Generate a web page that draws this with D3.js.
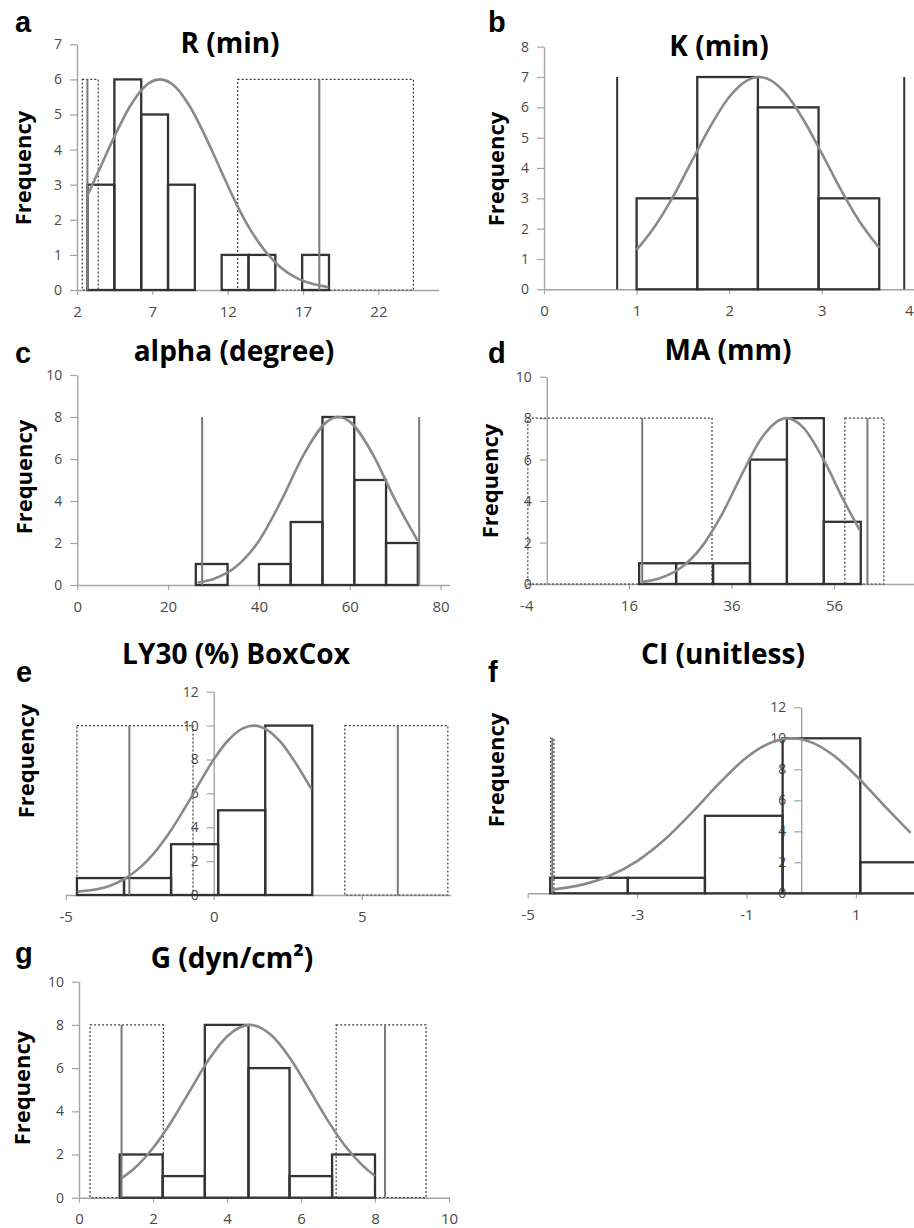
<!DOCTYPE html>
<html>
<head>
<meta charset="utf-8">
<script src="https://cdnjs.cloudflare.com/ajax/libs/d3/7.8.5/d3.min.js"></script>
<style>
body { margin: 0; background: #fff; }
svg { display: block; }
</style>
</head>
<body>
<div id="chart"></div>
<script>

// ---- panel a : R (min)
var aEdges  = [2.7, 4.48, 6.26, 8.04, 9.82, 11.6, 13.38, 15.16, 16.94, 18.72];
var aCounts = [3, 6, 5, 3, 0, 1, 1, 0, 1];
var aLimits = [2.69, 18.08];
var aBoxes  = [[2.35, 3.41], [12.66, 24.32]];
var aCurveX = [2.7, 3.5, 4.5, 5.5, 6.5, 7.5, 8.5, 9.5, 10.5, 11.5, 12.5, 13.5, 14.5, 15.5, 16.5, 17.5, 18.7];
var aCurveY = [2.7, 3.45, 4.39, 5.22, 5.8, 6, 5.8, 5.22, 4.39, 3.45, 2.52, 1.72, 1.1, 0.65, 0.36, 0.19, 0.08];
var aXTicks = [2, 7, 12, 17, 22];
var aYTicks = [0, 1, 2, 3, 4, 5, 6, 7];

// ---- panel b : K (min)
var bEdges  = [1.0, 1.655, 2.31, 2.965, 3.62];
var bCounts = [3, 7, 6, 3];
var bLimits = [0.79, 3.89];
var bBoxes  = [];
var bCurveX = [1.0, 1.2, 1.4, 1.6, 1.8, 2.0, 2.2, 2.32, 2.4, 2.6, 2.8, 3.0, 3.2, 3.4, 3.62];
var bCurveY = [1.3, 2.09, 3.09, 4.25, 5.39, 6.34, 6.9, 7.0, 6.96, 6.49, 5.6, 4.48, 3.32, 2.27, 1.37];
var bXTicks = [0, 1, 2, 3, 4];
var bYTicks = [0, 1, 2, 3, 4, 5, 6, 7, 8];

// ---- panel c : alpha (degree)
var cEdges  = [26.1, 33.1, 40.0, 47.0, 54.0, 61.0, 68.0, 75.0];
var cCounts = [1, 0, 1, 3, 8, 5, 2];
var cLimits = [27.5, 75.3];
var cBoxes  = [];
var cCurveX = [26.5, 30, 35, 40, 45, 50, 55, 57.5, 60, 65, 70, 75];
var cCurveY = [0.12, 0.29, 0.88, 2.1, 4.05, 6.26, 7.78, 8, 7.78, 6.26, 4.05, 2.1];
var cXTicks = [0, 20, 40, 60, 80];
var cYTicks = [0, 2, 4, 6, 8, 10];

// ---- panel d : MA (mm)
var dEdges  = [18.0, 25.2, 32.4, 39.6, 46.8, 54.0, 61.2];
var dCounts = [1, 1, 1, 6, 8, 3];
var dLimits = [18.6, 62.5];
var dBoxes  = [[-3.7, 32.2], [58.1, 65.7]];
var dCurveX = [18.5, 22, 26, 30, 34, 38, 42, 46.7, 50, 54, 58, 61];
var dCurveY = [0.1, 0.28, 0.76, 1.73, 3.3, 5.28, 7.09, 8, 7.54, 5.97, 3.97, 2.6];
var dXTicks = [-4, 16, 36, 56];
var dYTicks = [0, 2, 4, 6, 8, 10];

// ---- panel e : LY30 (%) BoxCox
var eEdges  = [-4.62, -3.03, -1.44, 0.15, 1.74, 3.33];
var eCounts = [1, 1, 3, 5, 10];
var eLimits = [-2.85, 6.22];
var eBoxes  = [[-4.62, -0.7], [4.43, 7.91]];
var eCurveX = [-4.6, -4, -3.5, -3, -2.5, -2, -1.5, -1, -0.5, 0, 0.5, 1, 1.35, 1.8, 2.3, 2.8, 3.3];
var eCurveY = [0.2, 0.32, 0.55, 0.97, 1.6, 2.5, 3.67, 5.06, 6.55, 8.0, 9.15, 9.85, 10, 9.75, 8.95, 7.7, 6.25];
var eXTicks = [-5, 0, 5];
var eYTicks = [0, 2, 4, 6, 8, 10, 12];

// ---- panel f : CI (unitless)
var fEdges  = [-4.59, -3.17, -1.76, -0.34, 1.08, 2.5];
var fCounts = [1, 1, 5, 10, 2];
var fLimits = [-4.55];
var fBoxes  = [[-4.58, -4.52]];
var fCurveX = [-4.56, -4, -3.5, -3, -2.5, -2, -1.5, -1, -0.5, -0.18, 0.2, 0.6, 1.0, 1.5, 2.0];
var fCurveY = [0.23, 0.56, 1.13, 2.08, 3.45, 5.2, 7.09, 8.76, 9.8, 10, 9.72, 8.87, 7.6, 5.72, 3.9];
var fXTicks = [-5, -3, -1, 1];
var fYTicks = [0, 2, 4, 6, 8, 10, 12];

// ---- panel g : G (dyn/cm2)
var gEdges  = [1.1, 2.26, 3.4, 4.58, 5.69, 6.84, 8.0];
var gCounts = [2, 1, 8, 6, 1, 2];
var gLimits = [1.15, 8.27];
var gBoxes  = [[0.3, 2.28], [6.95, 9.38]];
var gCurveX = [1.15, 1.5, 2, 2.5, 3, 3.5, 4, 4.62, 5.2, 5.7, 6.2, 6.7, 7.2, 7.6, 8.0];
var gCurveY = [0.9, 1.36, 2.3, 3.53, 4.96, 6.37, 7.46, 8, 7.52, 6.47, 5.08, 3.64, 2.38, 1.6, 1.0];
var gXTicks = [0, 2, 4, 6, 8, 10];
var gYTicks = [0, 2, 4, 6, 8, 10];

var letters    = ["a", "b", "c", "d", "e", "f", "g"];
var titles     = ["R (min)", "K (min)", "alpha (degree)", "MA (mm)", "LY30 (%) BoxCox", "CI (unitless)", "G (dyn/cm\u00B2)"];
var markHeight = [6, 7, 8, 8, 10, 10, 8];   // height of the limit lines / boxes
var xDomains   = [[2, 26], [0, 4], [0, 82], [-4, 76], [-5, 8], [-5, 3], [0, 10]];
var yMax       = [7, 8, 10, 10, 12, 12, 10];

// layout of each panel on the page (pixels)
var layout = [
    {x0: 77,    x1: 438.7, y0: 290,    yTop: 44.3,  letter: [15, 32],   title: [230, 53],   freq: [31, 168]},
    {x0: 544,   x1: 914.4, y0: 289.3,  yTop: 46.7,  letter: [488, 32],  title: [719, 56],   freq: [504, 169]},
    {x0: 77.3,  x1: 449.6, y0: 585,    yTop: 375,   letter: [15, 363],  title: [234, 361],  freq: [32, 477]},
    {x0: 526.3, x1: 936.7, y0: 584,    yTop: 376.7, letter: [488, 363], title: [728, 360],  freq: [498, 481]},
    {x0: 65.7,  x1: 450.5, y0: 895,    yTop: 691.7, letter: [16, 682],  title: [236, 664],  freq: [34, 761]},
    {x0: 527.7, x1: 965.3, y0: 893.3,  yTop: 707.3, letter: [488, 682], title: [723, 664],  freq: [504, 770]},
    {x0: 79,    x1: 449,   y0: 1197.7, yTop: 981.7, letter: [15, 963],  title: [232, 968],  freq: [30, 1088]}
];

var panels = [
    [aEdges, aCounts, aLimits, aBoxes, aCurveX, aCurveY, aXTicks, aYTicks],
    [bEdges, bCounts, bLimits, bBoxes, bCurveX, bCurveY, bXTicks, bYTicks],
    [cEdges, cCounts, cLimits, cBoxes, cCurveX, cCurveY, cXTicks, cYTicks],
    [dEdges, dCounts, dLimits, dBoxes, dCurveX, dCurveY, dXTicks, dYTicks],
    [eEdges, eCounts, eLimits, eBoxes, eCurveX, eCurveY, eXTicks, eYTicks],
    [fEdges, fCounts, fLimits, fBoxes, fCurveX, fCurveY, fXTicks, fYTicks],
    [gEdges, gCounts, gLimits, gBoxes, gCurveX, gCurveY, gXTicks, gYTicks]
];

var FONT = "'Open Sans', 'DejaVu Sans', sans-serif";
var PAGE_W = 914;

// plain number labels, ascii minus like the original
var plain = function(d) { return String(d); };

var svg = d3.select("#chart").append("svg")
            .attr("width", PAGE_W)
            .attr("height", 1228);

function drawPanel(i) {
    var p = panels[i], L = layout[i];
    var edges = p[0], counts = p[1], limits = p[2], boxes = p[3];
    var cx = p[4], cy = p[5], xTicks = p[6], yTicks = p[7];
    var h = markHeight[i];

    var x = d3.scaleLinear().domain(xDomains[i]).range([L.x0, L.x1]);
    var y = d3.scaleLinear().domain([0, yMax[i]]).range([L.y0, L.yTop]);

    var g = svg.append("g").attr("class", "panel-" + letters[i]);

    // y axis sits at x = 0 (or at the left end when 0 is out of range)
    var yAxisAt = Math.max(xDomains[i][0], 0);

    //x axis
    var xa = g.append("g")
        .attr("transform", "translate(0," + L.y0 + ")")
        .call(d3.axisBottom(x).tickValues(xTicks).tickFormat(plain)
                .tickSize(5).tickSizeOuter(0).tickPadding(11));

    //y axis
    var ya = g.append("g")
        .attr("transform", "translate(" + x(yAxisAt) + ",0)")
        .call(d3.axisLeft(y).tickValues(yTicks).tickFormat(plain)
                .tickSize(7).tickSizeOuter(0).tickPadding(8));

    [xa, ya].forEach(function(a) {
        a.attr("font-family", FONT).attr("font-size", 15);
        a.select(".domain").attr("stroke", "#a3a3a3").attr("stroke-width", 1.4);
        a.selectAll(".tick line").attr("stroke", "#a3a3a3").attr("stroke-width", 1.2);
        a.selectAll(".tick text").attr("fill", "#4a4a4a");
    });
    ya.attr("font-size", 14);

    // keep a label that sits right on the page edge inside the page
    xa.selectAll(".tick text")
        .filter(function(d) { return x(d) > PAGE_W - 6; })
        .attr("text-anchor", "end")
        .attr("x", function(d) { return PAGE_W - 1 - x(d); });

    // dotted boxes
    g.selectAll("rect.box").data(boxes).enter().append("rect")
        .attr("class", "box")
        .attr("x", function(d) { return x(d[0]); })
        .attr("y", y(h))
        .attr("width", function(d) { return x(d[1]) - x(d[0]); })
        .attr("height", y(0) - y(h))
        .attr("fill", "none")
        .attr("stroke", "#3c3c3c")
        .attr("stroke-width", 1.2)
        .attr("stroke-dasharray", "2,2");

    // histogram bars
    g.selectAll("rect.bar").data(counts).enter().append("rect")
        .attr("class", "bar")
        .attr("x", function(d, j) { return x(edges[j]); })
        .attr("y", function(d) { return y(d); })
        .attr("width", function(d, j) { return x(edges[j + 1]) - x(edges[j]); })
        .attr("height", function(d) { return y(0) - y(d); })
        .attr("fill", "none")
        .attr("stroke", "#333")
        .attr("stroke-width", 2.3);

    // limit lines
    g.selectAll("line.limit").data(limits).enter().append("line")
        .attr("class", "limit")
        .attr("x1", function(d) { return x(d); })
        .attr("x2", function(d) { return x(d); })
        .attr("y1", y(0))
        .attr("y2", y(h))
        .attr("stroke", i == 1 ? "#333" : "#7a7a7a")
        .attr("stroke-width", 2);

    // fitted curve
    var pts = cx.map(function(v, j) { return [v, cy[j]]; });
    var line = d3.line()
        .x(function(d) { return x(d[0]); })
        .y(function(d) { return y(d[1]); })
        .curve(d3.curveMonotoneX);
    g.append("path")
        .datum(pts)
        .attr("d", line)
        .attr("fill", "none")
        .attr("stroke", "#8a8a8a")
        .attr("stroke-width", 2.6);

    // texts
    g.append("text")
        .attr("x", L.letter[0]).attr("y", L.letter[1])
        .text(letters[i])
        .style("font-family", "'Liberation Sans', Arial, sans-serif")
        .style("font-size", "29px")
        .style("font-weight", "bold")
        .style("fill", "#000");

    g.append("text")
        .attr("x", L.title[0]).attr("y", L.title[1])
        .attr("text-anchor", "middle")
        .text(titles[i])
        .style("font-family", FONT)
        .style("font-size", "28px")
        .style("font-weight", "bold")
        .style("fill", "#000");

    g.append("text")
        .attr("transform", "translate(" + L.freq[0] + "," + L.freq[1] + ") rotate(-90)")
        .attr("text-anchor", "middle")
        .text("Frequency")
        .style("font-family", FONT)
        .style("font-size", "22px")
        .style("font-weight", "bold")
        .style("fill", "#000");
}

for (var i = 0; i < panels.length; i++) {
    drawPanel(i);
}

</script>
</body>
</html>
